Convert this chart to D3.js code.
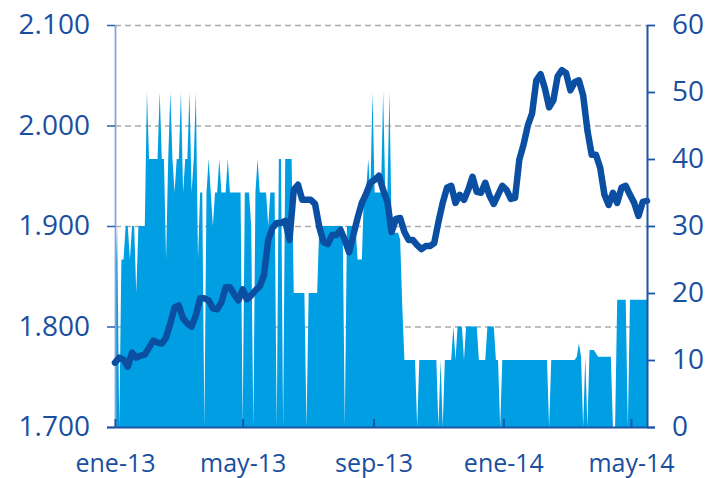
<!DOCTYPE html>
<html>
<head>
<meta charset="utf-8">
<script src="https://cdn.jsdelivr.net/npm/d3@7"></script>
<style>
  body { margin: 0; background: #fff; }
  svg text { font-family: "Open Sans", sans-serif; fill: #1a4f9f; }
</style>
</head>
<body>
<svg id="chart" width="713" height="478"></svg>
<script>
// price (left axis) every 4 days, volume (right axis) every 2 days, both from 1 Jan 2013
var priceStart = "2013-01-01", priceStepDays = 4;
var priceValues = [
  1764, 1769, 1767, 1760, 1774, 1769, 1771, 1772, 1779, 1786,
  1784, 1783, 1789, 1803, 1819, 1821, 1808, 1803, 1800, 1811,
  1828, 1828, 1826, 1818, 1817, 1824, 1839, 1839, 1832, 1826,
  1837, 1827, 1831, 1836, 1840, 1851, 1886, 1898, 1903, 1903,
  1905, 1886, 1936, 1941, 1926, 1926, 1926, 1922, 1899, 1884,
  1882, 1891, 1891, 1896, 1886, 1874, 1891, 1908, 1923, 1932,
  1943, 1946, 1950, 1936, 1924, 1894, 1907, 1908, 1894, 1886,
  1886, 1881, 1877, 1880, 1880, 1883, 1904, 1923, 1938, 1940,
  1923, 1931, 1926, 1936, 1949, 1934, 1933, 1943, 1930, 1922,
  1931, 1940, 1936, 1927, 1928, 1966, 1981, 2000, 2012, 2045,
  2051, 2037, 2018, 2025, 2049, 2055, 2052, 2035, 2043, 2045,
  2030, 1995, 1971, 1971, 1958, 1931, 1921, 1933, 1923, 1938,
  1940, 1931, 1923, 1910, 1924, 1925
];

var volumeStart = "2013-01-01", volumeStepDays = 2;
var volumeValues = [
  20, 30, 0, 25, 25, 30, 30, 25, 30, 30,
  20, 30, 30, 30, 30, 50, 40, 40, 40, 40,
  40, 50, 40, 40, 25, 40, 50, 40, 35, 40,
  40, 50, 35, 40, 40, 50, 35, 40, 50, 25,
  35, 35, 0, 35, 40, 35, 30, 35, 35, 40,
  35, 35, 35, 40, 35, 35, 35, 35, 35, 35,
  0, 35, 35, 35, 30, 0, 35, 40, 35, 35,
  35, 35, 30, 35, 35, 35, 0, 40, 40, 0,
  40, 40, 40, 40, 20, 20, 20, 20, 20, 20,
  0, 20, 20, 20, 20, 20, 30, 30, 30, 30,
  30, 30, 30, 30, 30, 30, 30, 30, 0, 30,
  30, 30, 30, 30, 25, 25, 25, 35, 35, 40,
  35, 50, 35, 35, 35, 35, 50, 35, 35, 50,
  29, 29, 29, 29, 28, 18, 10, 10, 10, 10,
  10, 10, 0, 10, 10, 10, 10, 10, 10, 10,
  10, 10, 0, 10, 0, 10, 10, 10, 10, 15,
  10, 15, 15, 15, 10, 15, 15, 15, 15, 15,
  15, 10, 10, 10, 10, 15, 15, 15, 15, 10,
  10, 0, 10, 10, 10, 10, 10, 10, 10, 10,
  10, 10, 10, 10, 10, 10, 10, 10, 10, 10,
  10, 10, 10, 10, 0, 10, 10, 10, 10, 10,
  10, 10, 10, 10, 10, 10, 10, 10.5, 12.5, 10.5,
  0, 10.5, 0, 11.5, 11.5, 11.5, 11, 10.5, 10.5, 10.5,
  10.5, 10.5, 10.5, 10.5, 0, 0, 19, 19, 19, 19,
  19, 0, 19, 19, 19, 19, 19, 19, 19, 19,
  19
];

var xTickDates = ["2013-01-01", "2013-05-01", "2013-09-01", "2014-01-01", "2014-05-01"];
var leftTicks = [1700, 1800, 1900, 2000, 2100];
var rightTicks = [0, 10, 20, 30, 40, 50, 60];

var parseDate = d3.timeParse("%Y-%m-%d");

var es = d3.timeFormatLocale({
  dateTime: "%A, %e de %B de %Y, %X", date: "%d/%m/%Y", time: "%H:%M:%S",
  periods: ["AM", "PM"],
  days: ["domingo", "lunes", "martes", "miércoles", "jueves", "viernes", "sábado"],
  shortDays: ["dom", "lun", "mar", "mié", "jue", "vie", "sáb"],
  months: ["enero", "febrero", "marzo", "abril", "mayo", "junio", "julio", "agosto", "septiembre", "octubre", "noviembre", "diciembre"],
  shortMonths: ["ene", "feb", "mar", "abr", "may", "jun", "jul", "ago", "sep", "oct", "nov", "dic"]
});
var esNum = d3.formatLocale({ decimal: ",", thousands: ".", grouping: [3], currency: ["", " €"] });

var price = priceValues.map(function(v, i) {
  return { date: d3.timeDay.offset(parseDate(priceStart), i * priceStepDays), value: v };
});
var volume = volumeValues.map(function(v, i) {
  return { date: d3.timeDay.offset(parseDate(volumeStart), i * volumeStepDays), value: v };
});

var plotL = 115, plotR = 647, plotT = 25, plotB = 427;

var x = d3.scaleTime()
    .domain([parseDate("2013-01-01"), volume[volume.length - 1].date])
    .range([plotL, plotR]);
var yL = d3.scaleLinear().domain([1700, 2100]).range([plotB, plotT]);
var yR = d3.scaleLinear().domain([0, 60]).range([plotB, plotT]);

var svg = d3.select("#chart");

// dashed grid behind everything
svg.append("g")
  .selectAll("line")
  .data(leftTicks.slice(1))
  .enter().append("line")
    .attr("x1", plotL)
    .attr("x2", plotR)
    .attr("y1", function(d) { return yL(d) + 0.5; })
    .attr("y2", function(d) { return yL(d) + 0.5; })
    .attr("stroke", "#ababab")
    .attr("stroke-width", 1.6)
    .attr("stroke-dasharray", "6,4");

// volume area
svg.append("path")
    .datum(volume)
    .attr("fill", "#009fe3")
    .attr("d", d3.area()
      .x(function(d) { return x(d.date); })
      .y0(yR(0))
      .y1(function(d) { return yR(d.value); }));

// left axis
var gL = svg.append("g")
    .attr("transform", "translate(" + plotL + ",0)")
    .call(d3.axisLeft(yL)
      .tickValues(leftTicks)
      .tickSize(8)
      .tickSizeOuter(0)
      .tickPadding(17)
      .tickFormat(esNum.format(",.0f")));
gL.select(".domain").attr("stroke", "#8aa5d6").attr("stroke-width", 1.8);
gL.selectAll(".tick line").attr("stroke", "#2d5fae").attr("stroke-width", 1.5);
gL.selectAll(".tick text").style("font-size", "28px");

// price line
svg.append("path")
    .datum(price)
    .attr("fill", "none")
    .attr("stroke", "#0b4fa3")
    .attr("stroke-width", 6.5)
    .attr("stroke-linejoin", "round")
    .attr("stroke-linecap", "round")
    .attr("d", d3.line()
      .x(function(d) { return x(d.date); })
      .y(function(d) { return yL(d.value); }));

// right axis
var gR = svg.append("g")
    .attr("transform", "translate(" + plotR + ",0)")
    .call(d3.axisRight(yR)
      .tickValues(rightTicks)
      .tickSize(8)
      .tickSizeOuter(0)
      .tickPadding(17));
gR.select(".domain").attr("stroke", "#1d55a5").attr("stroke-width", 2);
gR.selectAll(".tick line").attr("stroke", "#1d55a5").attr("stroke-width", 1.8);
gR.selectAll(".tick text").style("font-size", "28px");

// bottom axis, ticks pointing up into the plot
var gX = svg.append("g")
    .attr("transform", "translate(0," + plotB + ")")
    .call(d3.axisBottom(x)
      .tickValues(xTickDates.map(parseDate))
      .tickSize(-8)
      .tickSizeOuter(0)
      .tickPadding(27)
      .tickFormat(es.format("%b-%y")));
gX.select(".domain").remove();
gX.selectAll(".tick line").attr("stroke", "#1d55a5").attr("stroke-width", 2);
gX.selectAll(".tick text").style("font-size", "25px");

gX.append("line")
    .attr("x1", plotL - 8)
    .attr("x2", plotR + 8)
    .attr("y1", 0.5)
    .attr("y2", 0.5)
    .attr("stroke", "#1d55a5")
    .attr("stroke-width", 2);
</script>
</body>
</html>
